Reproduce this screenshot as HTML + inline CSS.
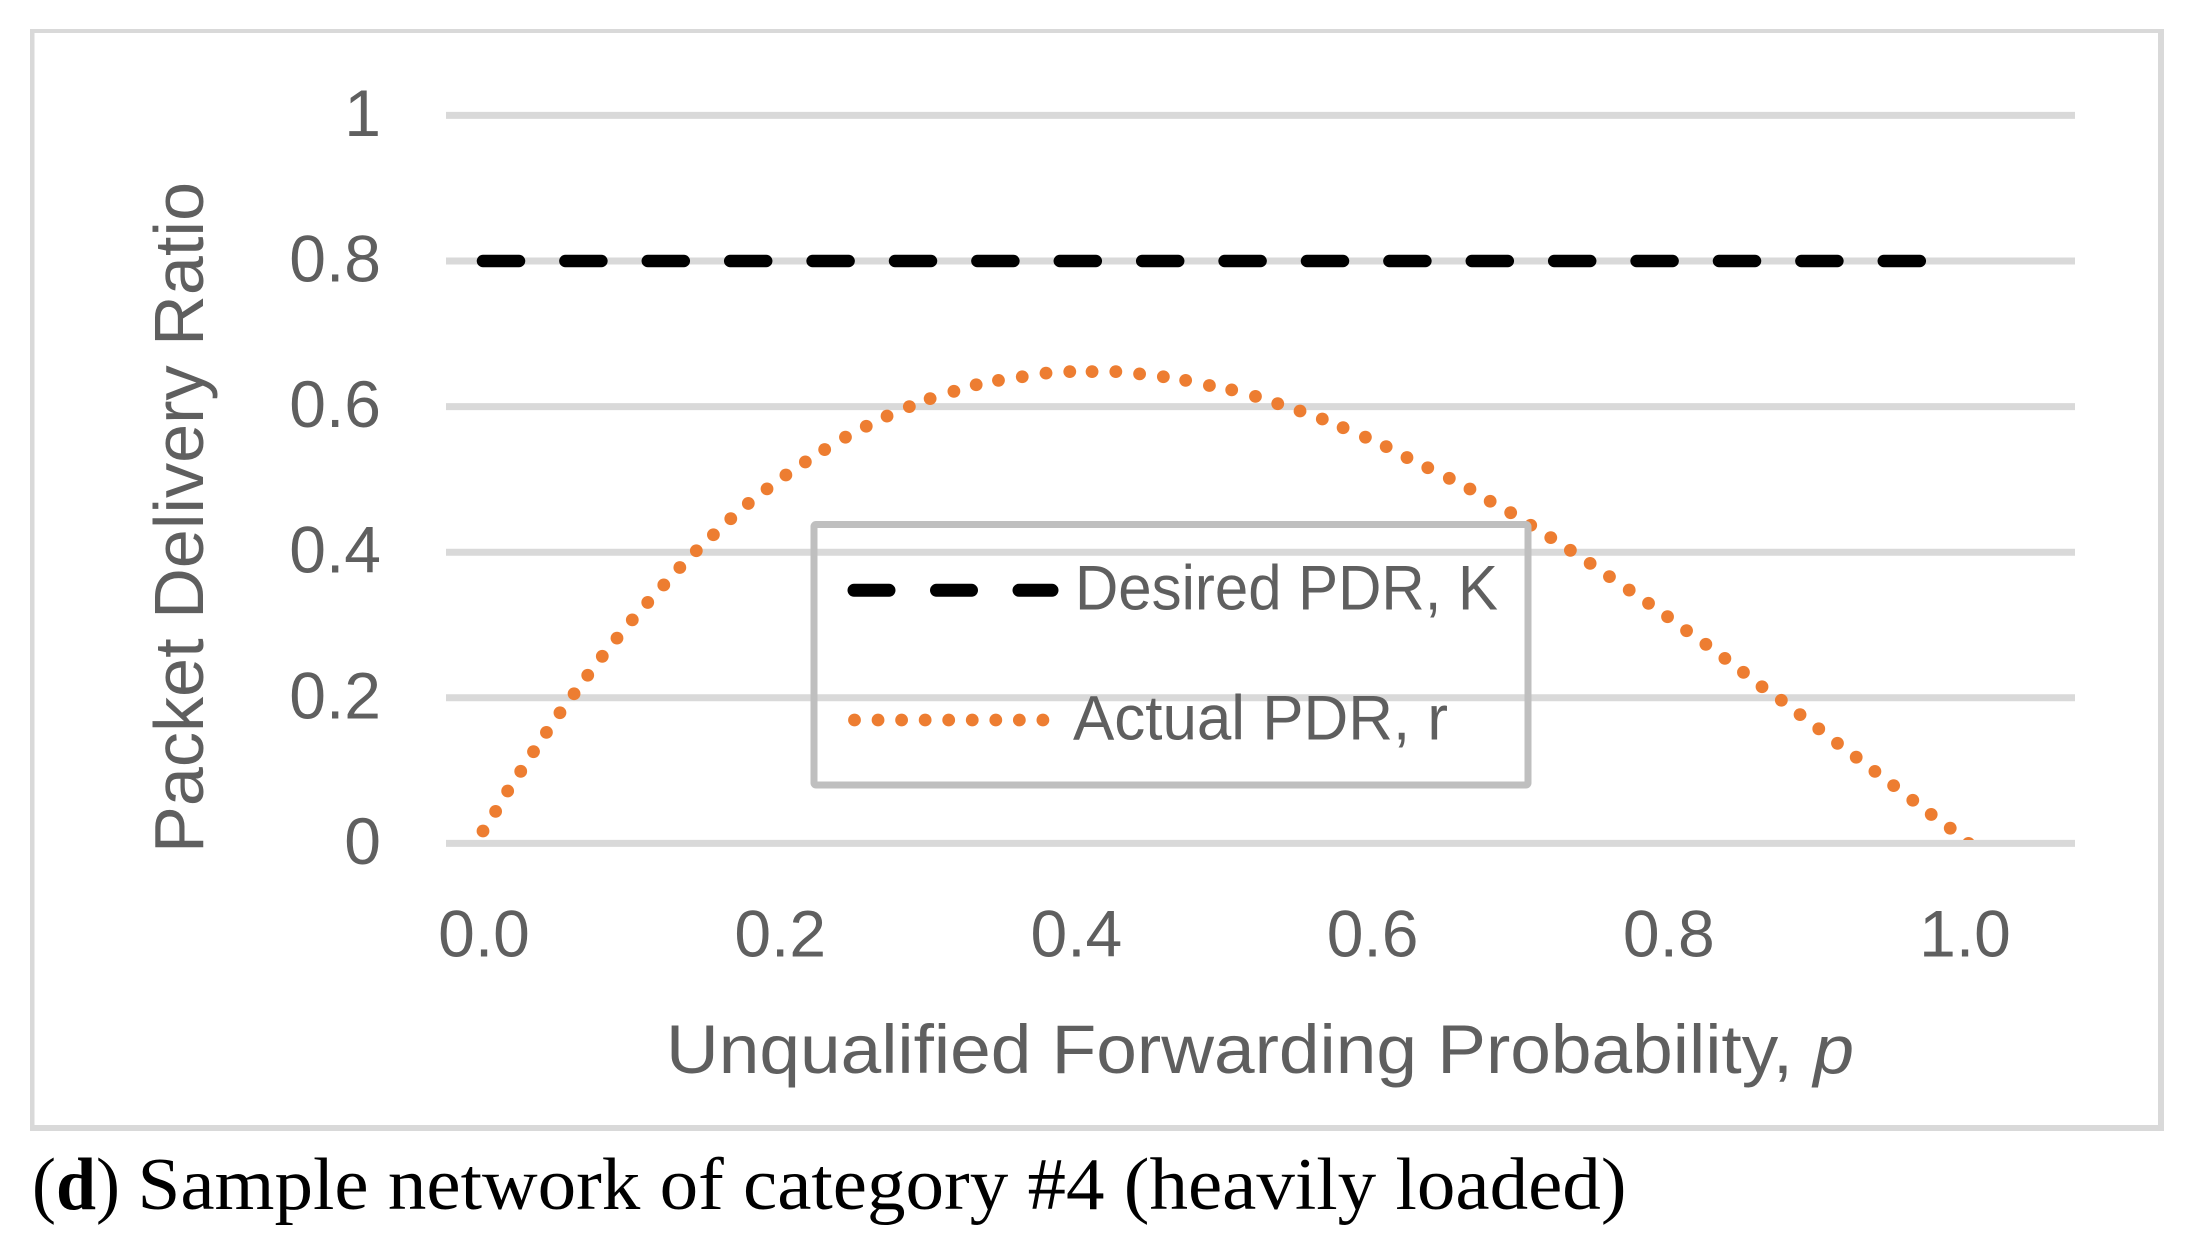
<!DOCTYPE html>
<html lang="en">
<head>
<meta charset="utf-8">
<title>Packet Delivery Ratio vs Unqualified Forwarding Probability</title>
<style>
html,body{margin:0;padding:0;background:#fff;}
body{width:2199px;height:1257px;overflow:hidden;}
svg{display:block;}
text{font-family:"Liberation Sans",sans-serif;fill:#5f5f5f;}
.caption{font-family:"Liberation Serif",serif;fill:#000;}
</style>
</head>
<body>
<svg id="chart" xmlns="http://www.w3.org/2000/svg" width="2199" height="1257" viewBox="0 0 2199 1257">
  <rect x="0" y="0" width="2199" height="1257" fill="#fff"/>
  <g fill="#d9d9d9">
    <rect x="30" y="29" width="2134" height="4"/>
    <rect x="30" y="1125" width="2134" height="6"/>
    <rect x="30" y="29" width="4.5" height="1102"/>
    <rect x="2158" y="29" width="6" height="1102"/>
  </g>
  <defs>
    <clipPath id="plot-clip"><rect x="400" y="100" width="1700" height="740"/></clipPath>
  </defs>
  <g id="grid"></g>
  <g id="y-ticks"></g>
  <g id="x-ticks"></g>
  <text transform="translate(203,853) rotate(-90)" font-size="70" textLength="671" lengthAdjust="spacingAndGlyphs">Packet Delivery Ratio</text>
  <text x="666" y="1073" font-size="69" textLength="1188" lengthAdjust="spacingAndGlyphs">Unqualified Forwarding Probability, <tspan font-style="italic">p</tspan></text>
  <g id="series-k"></g>
  <g id="series-r" clip-path="url(#plot-clip)"></g>
  <g>
    <rect x="814" y="524.5" width="714" height="260.5" rx="2" fill="none" stroke="#bfbfbf" stroke-width="7"/>
    <line x1="854" y1="590.3" x2="1052" y2="590.3" stroke="#000" stroke-width="13" stroke-linecap="round" stroke-dasharray="35 47.5"/>
    <line x1="854.5" y1="720" x2="1043" y2="720" stroke="#ed7d31" stroke-width="12.8" stroke-linecap="round" stroke-dasharray="0 23.55"/>
    <text x="1075" y="609.3" font-size="63" textLength="423" lengthAdjust="spacingAndGlyphs">Desired PDR, K</text>
    <text x="1073" y="739.3" font-size="63" textLength="375" lengthAdjust="spacingAndGlyphs">Actual PDR, r</text>
  </g>
  <g>
    <text class="caption" x="32" y="1209" font-size="74" textLength="88" lengthAdjust="spacingAndGlyphs">(<tspan font-weight="bold">d</tspan>)</text>
    <text class="caption" x="137.5" y="1209" font-size="74" textLength="1489" lengthAdjust="spacingAndGlyphs">Sample network of category #4 (heavily loaded)</text>
  </g>
</svg>
<script>
const yTickValues = [1, 0.8, 0.6, 0.4, 0.2, 0];
const yTickLabels = ['1', '0.8', '0.6', '0.4', '0.2', '0'];
const xTickValues = [0, 0.2, 0.4, 0.6, 0.8, 1];
const xTickLabels = ['0.0', '0.2', '0.4', '0.6', '0.8', '1.0'];
const desiredP = [0, 0.97];
const desiredR = [0.8, 0.8];
const actualP = [0,.0085,.0166,.0254,.034,.0427,.0518,.0613,.0705,.0803,.0902,.1005,.1109,.1217,.1325,.1436,.1551,.1668,.1786,.1912,.2039,.217,.230,.244,.258,.272,.287,.301,.317,.332,.347,.363,.379,.395,.410,.426,.442,.458,.473,.489,.504,.520,.535,.550,.565,.579,.594,.608,.622,.636,.6505,.6644,.678,.6918,.7053,.7188,.732,.7453,.7583,.7716,.7846,.7974,.8102,.8232,.836,.8485,.861,.874,.8866,.8992,.9118,.9244,.9370,.9496,.9625,.9749,.9877,1];
const actualR = [.017,.044,.072,.099,.126,.1525,.1795,.2056,.231,.257,.282,.307,.331,.355,.379,.402,.424,.446,.467,.487,.506,.524,.541,.558,.573,.587,.6,.611,.621,.63,.636,.641,.646,.648,.648,.648,.645,.641,.636,.629,.623,.614,.604,.594,.583,.571,.558,.545,.53,.516,.5015,.4868,.470,.4543,.437,.42,.4026,.3847,.3664,.348,.3298,.3114,.2922,.2735,.2542,.235,.2152,.1966,.1769,.1574,.1375,.1184,.0989,.0794,.0593,.0398,.0209,0];

const SVGNS = 'http://www.w3.org/2000/svg';
function xScale(p) { return 483 + p * 1485.5; }
function xLabelScale(p) { return 484 + p * 1481; }
function yScale(r) { return 843.4 - r * 728; }

const grid = document.getElementById('grid');
const yTicks = document.getElementById('y-ticks');
yTickValues.forEach(function (v, i) {
  const line = document.createElementNS(SVGNS, 'line');
  
  
  line.setAttribute('x1', 446);
  line.setAttribute('x2', 2075);
  line.setAttribute('y1', yScale(v));
  line.setAttribute('y2', yScale(v));
  line.setAttribute('stroke', '#d9d9d9');
  line.setAttribute('stroke-width', 7);
  grid.appendChild(line);

  const label = document.createElementNS(SVGNS, 'text');
  
  
  label.setAttribute('x', 381);
  label.setAttribute('y', yScale(v) + 20.5);
  label.setAttribute('text-anchor', 'end');
  label.setAttribute('font-size', 66);
  label.textContent = yTickLabels[i];
  yTicks.appendChild(label);
});

const xTicks = document.getElementById('x-ticks');
xTickValues.forEach(function (v, i) {
  const label = document.createElementNS(SVGNS, 'text');
  
  
  label.setAttribute('x', xLabelScale(v));
  label.setAttribute('y', 956.5);
  label.setAttribute('text-anchor', 'middle');
  label.setAttribute('font-size', 66);
  label.textContent = xTickLabels[i];
  xTicks.appendChild(label);
});

const kLine = document.createElementNS(SVGNS, 'polyline');


kLine.setAttribute('points', desiredP.map(function (p, i) { return xScale(p) + ',' + yScale(desiredR[i]); }).join(' '));
kLine.setAttribute('fill', 'none');
kLine.setAttribute('stroke', '#000');
kLine.setAttribute('stroke-width', 12.5);
kLine.setAttribute('stroke-linecap', 'round');
kLine.setAttribute('stroke-dasharray', '36 46.4');
document.getElementById('series-k').appendChild(kLine);

const rGroup = document.getElementById('series-r');
actualP.forEach(function (p, i) {
  const dot = document.createElementNS(SVGNS, 'circle');
  
  
  dot.setAttribute('cx', xScale(p));
  dot.setAttribute('cy', yScale(actualR[i]));
  dot.setAttribute('r', 6.4);
  dot.setAttribute('fill', '#ed7d31');
  rGroup.appendChild(dot);
});
</script>
</body>
</html>
